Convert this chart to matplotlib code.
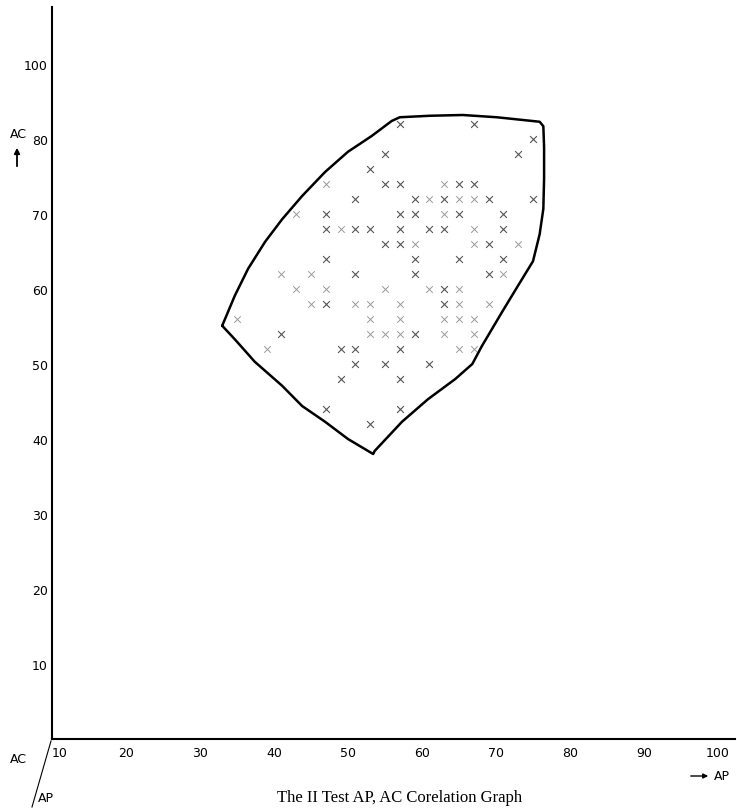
import matplotlib
matplotlib.use('Agg')
import matplotlib.pyplot as plt
from matplotlib.lines import Line2D

# ── Data (AP, AC) ──
# clearly printed crosses
ap_clear = [67, 75, 55, 53, 51, 47, 47, 51, 53, 47, 51, 55, 57, 65, 67, 59, 63, 69,
            57, 59, 65, 71, 57, 61, 63, 71, 57, 69, 59, 65, 59, 69, 55, 47, 41, 49,
            51, 51, 55, 49, 47, 53, 63, 63, 59, 57, 61, 57, 57, 75, 71, 57, 73]
ac_clear = [82, 80, 78, 76, 72, 70, 68, 68, 68, 64, 62, 74, 74, 74, 74, 72, 72, 72,
            70, 70, 70, 70, 68, 68, 68, 68, 66, 66, 64, 64, 62, 62, 66, 58, 54, 52,
            52, 50, 50, 48, 44, 42, 60, 58, 54, 52, 50, 48, 44, 72, 64, 82, 78]

# faintly printed crosses
ap_faint = [47, 43, 49, 55, 41, 45, 47, 63, 61, 65, 67, 63, 67, 59, 67, 73, 71, 61,
            65, 43, 45, 51, 53, 35, 53, 53, 55, 39, 57, 65, 69, 57, 63, 65, 67, 57,
            63, 67, 65, 67]
ac_faint = [74, 70, 68, 60, 62, 62, 60, 74, 72, 72, 72, 70, 68, 66, 66, 66, 62, 60,
            60, 60, 58, 58, 58, 56, 56, 54, 54, 52, 58, 58, 58, 56, 56, 56, 56, 54,
            54, 54, 52, 52]

# hand drawn boundary around the cloud
boundary_ap = [33.0, 34.7, 36.5, 38.8, 41.1, 43.8, 46.9, 50.0, 53.2, 55.9, 57.0,
               61.1, 65.5, 70.1, 75.9, 76.4, 76.5, 76.5, 76.4, 75.9, 75.0, 73.2,
               70.8, 68.1, 66.8, 64.5, 60.8, 57.3, 53.6, 53.4, 50.0, 46.9, 43.8,
               41.1, 37.4, 34.7, 33.0]
boundary_ac = [55.1, 59.1, 62.7, 66.3, 69.3, 72.4, 75.6, 78.3, 80.4, 82.4, 82.9,
               83.1, 83.2, 82.9, 82.3, 81.7, 78.9, 74.7, 70.7, 67.3, 63.7, 60.8,
               56.9, 52.4, 50.0, 48.0, 45.3, 42.3, 38.4, 38.0, 40.0, 42.3, 44.4,
               47.1, 50.3, 53.3, 55.1]

x_ticks = [10, 20, 30, 40, 50, 60, 70, 80, 90, 100]
x_labels = ['10', '20', '30', '40', '50', '60', '70', '80', '90', '100']
y_ticks = [10, 20, 30, 40, 50, 60, 70, 80, 90]
y_labels = ['10', '20', '30', '40', '50', '60', '70', '80', '100']  # as printed

tick_font = ['Liberation Sans Narrow', 'DejaVu Sans']

fig = plt.figure(figsize=(7.37, 8.12), dpi=100)
ax = fig.add_axes([52 / 737, 72 / 812, 683 / 737, 732 / 812])

ax.scatter(ap_faint, ac_faint, marker='x', s=22, color='#9a9a9a', linewidths=0.7)
ax.scatter(ap_clear, ac_clear, marker='x', s=24, color='#555555', linewidths=0.8)
ax.plot(boundary_ap, boundary_ac, color='black', lw=1.8,
        solid_joinstyle='round', solid_capstyle='round')

ax.set_xlim(10, 102.3)
ax.set_ylim(0, 97.6)

for side in ('top', 'right'):
    ax.spines[side].set_visible(False)
for side in ('left', 'bottom'):
    ax.spines[side].set_linewidth(1.5)
    ax.spines[side].set_color('black')

ax.set_xticks(x_ticks)
ax.set_xticklabels(x_labels, family=tick_font, fontsize=9)
ax.set_yticks(y_ticks)
ax.set_yticklabels(y_labels, family=tick_font, fontsize=9)
ax.tick_params(axis='both', length=0)
ax.tick_params(axis='x', pad=5)
ax.tick_params(axis='y', pad=3)
ax.get_xticklabels()[0].set_ha('left')

# corner labels and diagonal
fig.add_artist(Line2D([51 / 737, 32 / 737], [1 - 742 / 812, 1 - 808 / 812],
                      color='black', lw=0.8))
fig.text(18 / 737, 1 - 760 / 812, 'AC', ha='center', va='center',
         family=tick_font, fontsize=9)
fig.text(38 / 737, 1 - 799 / 812, 'AP', ha='left', va='center',
         family=tick_font, fontsize=9)

# AC arrow on the left
fig.text(18 / 737, 1 - 134 / 812, 'AC', ha='center', va='center',
         family=tick_font, fontsize=9)
ax.annotate('', xy=(17 / 737, 1 - 146 / 812), xytext=(17 / 737, 1 - 170 / 812),
            xycoords='figure fraction', textcoords='figure fraction',
            arrowprops=dict(arrowstyle='-|>', color='black', lw=1.3,
                            mutation_scale=8))

# AP arrow bottom right
ax.annotate('', xy=(711 / 737, 1 - 777 / 812), xytext=(688 / 737, 1 - 777 / 812),
            xycoords='figure fraction', textcoords='figure fraction',
            arrowprops=dict(arrowstyle='-|>', color='black', lw=1.0,
                            mutation_scale=7))
fig.text(714 / 737, 1 - 777 / 812, 'AP', ha='left', va='center',
         family=tick_font, fontsize=9)

fig.text(400 / 737, 1 - 798 / 812, 'The II Test AP, AC Corelation Graph',
         ha='center', va='center', family=['Liberation Serif', 'DejaVu Serif'],
         fontsize=12)

fig.savefig('out.png', dpi=100)
